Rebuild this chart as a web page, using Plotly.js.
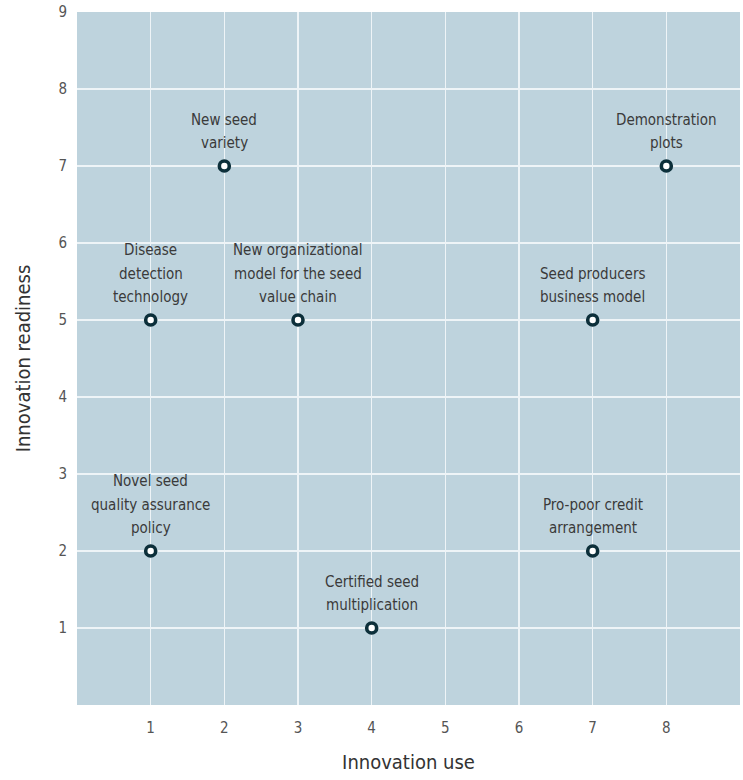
<!DOCTYPE html>
<html>
<head>
<meta charset="utf-8">
<script src="https://cdn.plot.ly/plotly-3.0.1.min.js"></script>
<style>
html,body{margin:0;padding:0;background:#fff;}
#chart{width:743px;height:780px;}
</style>
</head>
<body>
<div id="chart"></div>
<script>
const innovationLabels = [
  ["New seed", "variety"],
  ["Demonstration", "plots"],
  ["Disease", "detection", "technology"],
  ["New organizational", "model for the seed", "value chain"],
  ["Seed producers", "business model"],
  ["Novel seed", "quality assurance", "policy"],
  ["Pro-poor credit", "arrangement"],
  ["Certified seed", "multiplication"]
];
const innovationUse = [2, 8, 1, 3, 7, 1, 7, 4];
const innovationReadiness = [7, 7, 5, 5, 5, 2, 2, 1];
const tickValues = [1, 2, 3, 4, 5, 6, 7, 8, 9];

const FONT = "'Liberation Sans Narrow', 'DejaVu Sans Condensed', 'Open Sans', sans-serif";
const LABEL_GAP = 23;
const LINE_STEP = 23.3;

const trace = {
  x: innovationUse,
  y: innovationReadiness,
  mode: 'markers',
  type: 'scatter',
  hoverinfo: 'skip',
  marker: {
    symbol: 'circle',
    size: 10,
    color: '#ffffff',
    line: {color: '#0c2f3a', width: 3.6}
  }
};

const annotations = [];
innovationLabels.forEach((lines, i) => {
  const n = lines.length;
  lines.forEach((line, j) => {
    annotations.push({
      x: innovationUse[i],
      y: innovationReadiness[i],
      xref: 'x', yref: 'y',
      text: line,
      showarrow: false,
      xanchor: 'center',
      yanchor: 'middle',
      yshift: LABEL_GAP + (n - 1 - j) * LINE_STEP,
      font: {family: FONT, size: 15, color: '#3a3a3a'}
    });
  });
});

const layout = {
  width: 743,
  height: 780,
  margin: {l: 77, r: 3, t: 12, b: 75},
  paper_bgcolor: '#ffffff',
  plot_bgcolor: '#bed3dd',
  showlegend: false,
  font: {family: FONT, color: '#555'},
  xaxis: {
    range: [0, 9],
    tickvals: tickValues,
    ticktext: tickValues.map(String),
    showgrid: true,
    gridcolor: '#eef4f7',
    gridwidth: 1.2,
    zeroline: false,
    showline: false,
    ticks: 'outside',
    ticklen: 9,
    tickcolor: 'rgba(0,0,0,0)',
    tickfont: {family: FONT, size: 15, color: '#555'},
    title: {text: 'Innovation use', font: {family: FONT, size: 20, color: '#333'}, standoff: 18},
    automargin: false,
    fixedrange: true
  },
  yaxis: {
    range: [0, 9],
    tickvals: tickValues,
    ticktext: tickValues.map(String),
    showgrid: true,
    gridcolor: '#eef4f7',
    gridwidth: 1.2,
    zeroline: false,
    showline: false,
    ticks: 'outside',
    ticklen: 6,
    tickcolor: 'rgba(0,0,0,0)',
    tickfont: {family: FONT, size: 15, color: '#555'},
    title: {text: 'Innovation readiness', font: {family: FONT, size: 20, color: '#333'}, standoff: 22},
    automargin: false,
    fixedrange: true
  },
  annotations: annotations
};

Plotly.newPlot('chart', [trace], layout, {displayModeBar: false, staticPlot: true});
</script>
</body>
</html>
